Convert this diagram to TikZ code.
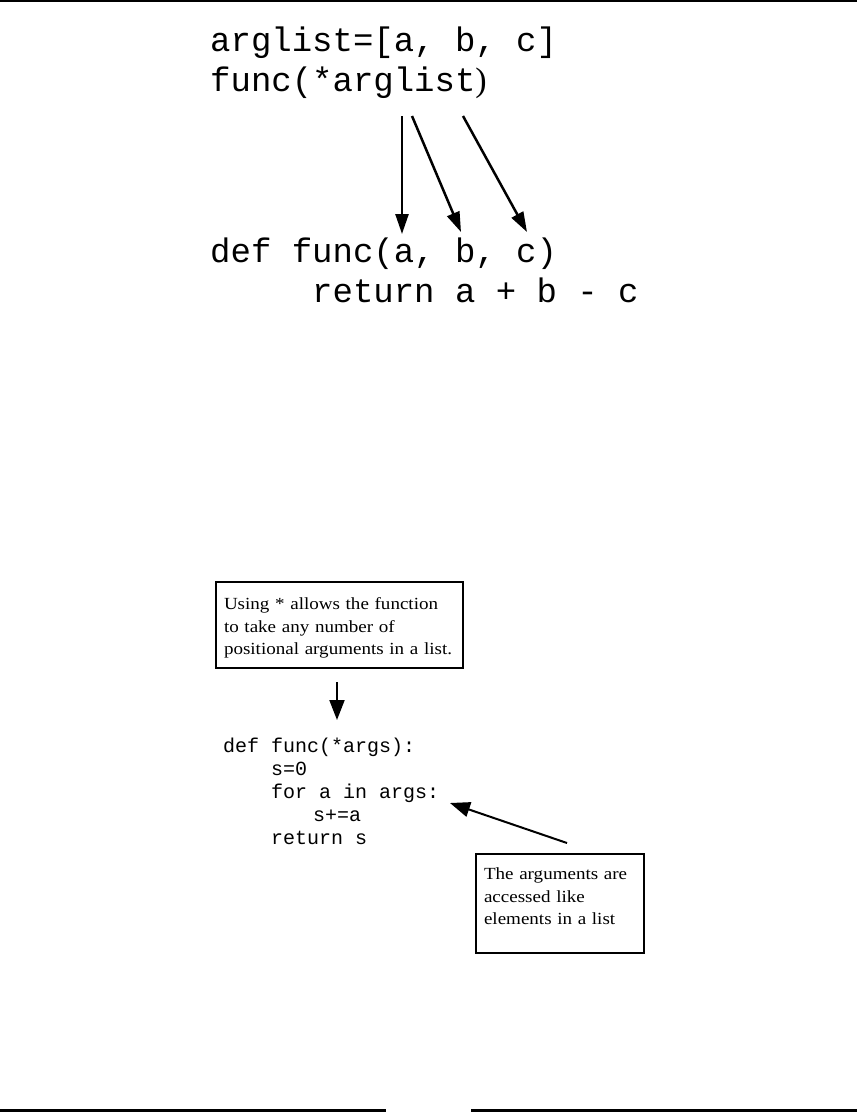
\documentclass[tikz,border=0pt]{standalone}
\usepackage{fontspec}
\setmainfont{Liberation Serif}
\newfontfamily\codefont{Liberation Mono}
\newfontfamily\notefont[FakeStretch=1.12]{Liberation Serif}
\usetikzlibrary{arrows.meta,positioning}
\tikzset{pass/.style={-{Triangle[length=20pt,width=13pt]},line width=2.5pt},point/.style={-{Triangle[length=20pt,width=15pt]},line width=2pt},bigcode/.style={anchor=base west,inner sep=0pt,font=\codefont\fontsize{34}{40}\selectfont},smallcode/.style={anchor=base west,inner sep=0pt,align=left,font=\codefont\fontsize{20}{23}\selectfont},note/.style={draw,line width=2pt,anchor=north west,align=left,inner xsep=8pt,inner ysep=0pt,font=\notefont\fontsize{17}{22.5}\selectfont}}

\begin{document}
\begin{tikzpicture}[x=1pt,y=-1pt]
\useasboundingbox (0,0) rectangle (857,1112);
\draw[line width=1.5pt] (0,0.75)--(857,0.75);
\draw[line width=3pt] (0,1110.5)--(386,1110.5);\draw[line width=3pt] (471,1110.5)--(857,1110.5);
% unpacking a list into a call
\node[bigcode] (arglist) at (210,51) {arglist=[a, b, c]};
\node[bigcode] (call) at (210,91) {func(*arglist{\rmfamily)}};
\node[bigcode] (def) at (210,262) {def func(a, b, c)};
\node[bigcode] (ret) at (210,302) {\hspace*{3em}return a + b - c};
\coordinate (from1) at (402,116);\coordinate (from2) at (412,116);\coordinate (from3) at (463,116);
\coordinate (to1) at (402,234);\coordinate (to2) at (461,232);\coordinate (to3) at (527,232);
\draw[pass] (from1)--(to1);\draw[pass] (from2)--(to2);\draw[pass] (from3)--(to3);
% collecting arguments with *args
\node[note,minimum width=247pt,minimum height=86pt,text width=231pt] (usage) at (215,581) {\rule{0pt}{18.5pt}Using * allows the function\\to take any number of\\positional arguments in a list.};
\node[smallcode] (body) at (223,844) {def func(*args):\\\hspace*{2.4em}s=0\\\hspace*{2.4em}for a in args:\\\hspace*{4.5em}s+=a\\\hspace*{2.4em}return s};
\node[note,minimum width=168pt,minimum height=99pt,text width=152pt] (access) at (475,853) {The arguments are\\accessed like\\elements in a list\rule[-14pt]{0pt}{14pt}};
\coordinate (down) at (337,682);\coordinate (intobody) at (337,720);
\coordinate (up) at (567,843);\coordinate (loop) at (450,803);
\draw[point] (down)--(intobody);
\draw[point] (up)--(loop);
\end{tikzpicture}
\end{document}
